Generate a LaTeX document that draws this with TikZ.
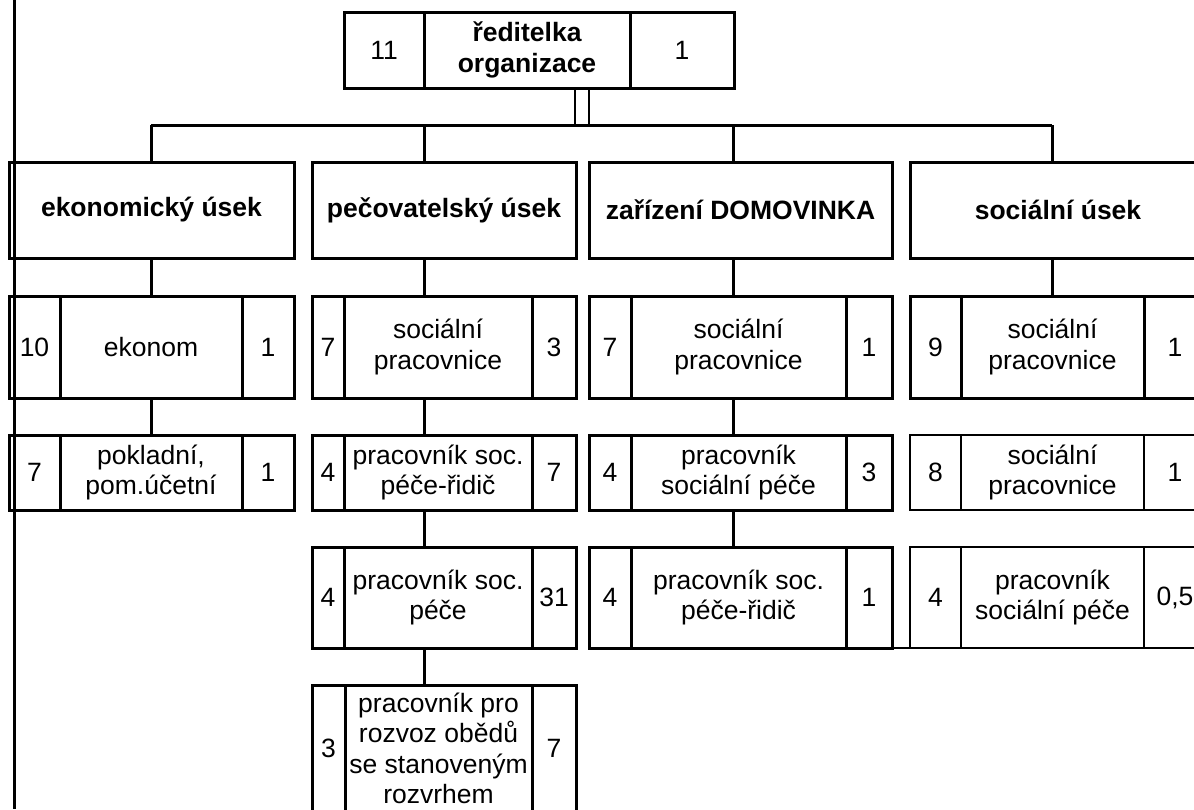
\documentclass[tikz,border=0pt]{standalone}
\usepackage{fontspec}
\setmainfont{Liberation Sans}
\usetikzlibrary{positioning}
\tikzset{cell/.style={
            draw,
            line width=3pt,
            inner sep=0pt,
            outer sep=0pt,
            align=center,
            anchor=north west,
            font=\fontsize{26.5}{30.5}\selectfont
        },
        thincell/.style={
            cell,
            line width=1.8pt
        },
        head/.style={
            cell,
            font=\fontsize{26.5}{30.5}\selectfont\bfseries
        },
        link/.style={
            line width=3pt
        },
        thinlink/.style={
            line width=1.8pt
        }
    }

\begin{document}
\begin{tikzpicture}
        [x=1pt,y=-1pt,
        toph/.style={minimum height=76pt},
        headh/.style={minimum height=96pt},
        rowa/.style={minimum height=102pt},
        rowb/.style={minimum height=75pt},
        rowc/.style={minimum height=101pt},
        rowd/.style={minimum height=127pt}]

        \path[use as bounding box,clip] (0,0) rectangle (1194,809);

        % spine points on the bar
        \coordinate (bar1) at (151,125);
        \coordinate (bar2) at (424,125);
        \coordinate (bar3) at (733,125);
        \coordinate (bar4) at (1052,125);
        \coordinate (dblL) at (575,125);
        \coordinate (dblR) at (589,125);
        \coordinate (edgeT) at (14,0);
        \coordinate (edgeB) at (14,809);

        % director
        \node[cell,toph,minimum width=80pt] (ridL) at (344,12) {11};
        \node[head,toph,minimum width=206pt,right=0pt of ridL] (rid) {ředitelka\\organizace};
        \node[cell,toph,minimum width=104pt,right=0pt of rid] (ridR) {1};

        % departments
        \node[head,headh,minimum width=285pt] (eko) at (9,162) {ekonomický úsek};
        \node[head,headh,minimum width=264pt] (pec) at (312,162) {pečovatelský úsek};
        \node[head,headh,minimum width=303pt] (dom) at (589,162) {zařízení DOMOVINKA};
        \node[head,headh,minimum width=296pt] (soc) at (910,162) {sociální úsek};

        % ekonomický úsek
        \node[cell,rowa,minimum width=51pt] (ekoAl) at (9,296) {10};
        \node[cell,rowa,minimum width=182pt,right=0pt of ekoAl] (ekoA) {ekonom};
        \node[cell,rowa,minimum width=52pt,right=0pt of ekoA] (ekoAr) {1};
        \node[cell,rowb,minimum width=51pt] (ekoBl) at (9,435) {7};
        \node[cell,rowb,minimum width=182pt,right=0pt of ekoBl] (ekoB) {pokladní,\\pom.účetní};
        \node[cell,rowb,minimum width=52pt,right=0pt of ekoB] (ekoBr) {1};

        % pečovatelský úsek
        \node[cell,rowa,minimum width=32pt] (pecAl) at (312,296) {7};
        \node[cell,rowa,minimum width=188pt,right=0pt of pecAl] (pecA) {sociální\\pracovnice};
        \node[cell,rowa,minimum width=44pt,right=0pt of pecA] (pecAr) {3};
        \node[cell,rowb,minimum width=32pt] (pecBl) at (312,435) {4};
        \node[cell,rowb,minimum width=188pt,right=0pt of pecBl] (pecB) {pracovník soc.\\péče-řidič};
        \node[cell,rowb,minimum width=44pt,right=0pt of pecB] (pecBr) {7};
        \node[cell,rowc,minimum width=32pt] (pecCl) at (312,547) {4};
        \node[cell,rowc,minimum width=188pt,right=0pt of pecCl] (pecC) {pracovník soc.\\péče};
        \node[cell,rowc,minimum width=44pt,right=0pt of pecC] (pecCr) {31};
        \node[cell,rowd,minimum width=33pt] (pecDl) at (312,685) {3};
        \node[cell,rowd,minimum width=187pt,right=0pt of pecDl] (pecD) {pracovník pro\\rozvoz obědů\\se stanoveným\\rozvrhem};
        \node[cell,rowd,minimum width=44pt,right=0pt of pecD] (pecDr) {7};

        % zařízení DOMOVINKA
        \node[cell,rowa,minimum width=42pt] (domAl) at (589,296) {7};
        \node[cell,rowa,minimum width=215pt,right=0pt of domAl] (domA) {sociální\\pracovnice};
        \node[cell,rowa,minimum width=46pt,right=0pt of domA] (domAr) {1};
        \node[cell,rowb,minimum width=42pt] (domBl) at (589,435) {4};
        \node[cell,rowb,minimum width=215pt,right=0pt of domBl] (domB) {pracovník\\sociální péče};
        \node[cell,rowb,minimum width=46pt,right=0pt of domB] (domBr) {3};
        \node[cell,rowc,minimum width=42pt] (domCl) at (589,547) {4};
        \node[cell,rowc,minimum width=215pt,right=0pt of domCl] (domC) {pracovník soc.\\péče-řidič};
        \node[cell,rowc,minimum width=46pt,right=0pt of domC] (domCr) {1};

        % sociální úsek
        \node[cell,rowa,minimum width=51pt] (socAl) at (910,296) {9};
        \node[cell,rowa,minimum width=183pt,right=0pt of socAl] (socA) {sociální\\pracovnice};
        \node[cell,rowa,minimum width=62pt,right=0pt of socA] (socAr) {1};
        \node[thincell,rowb,minimum width=51pt] (socBl) at (910,435) {8};
        \node[thincell,rowb,minimum width=183pt,right=0pt of socBl] (socB) {sociální\\pracovnice};
        \node[thincell,rowb,minimum width=62pt,right=0pt of socB] (socBr) {1};
        \node[thincell,rowc,minimum width=51pt] (socCl) at (910,547) {4};
        \node[thincell,rowc,minimum width=183pt,right=0pt of socCl] (socC) {pracovník\\sociální péče};
        \node[thincell,rowc,minimum width=62pt,right=0pt of socC] (socCr) {0,5};

        % lines
        \draw[link] (edgeT) -- (edgeB);
        \draw[thinlink] (rid.south -| dblL) -- (dblL);
        \draw[thinlink] (rid.south -| dblR) -- (dblR);
        \draw[link] (bar1) -- (bar4);
        \draw[link] (bar1) -- (eko.north -| bar1);
        \draw[link] (bar2) -- (pec.north -| bar2);
        \draw[link] (bar3) -- (dom.north -| bar3);
        \draw[link] (bar4) -- (soc.north -| bar4);

        \draw[link] (eko.south -| bar1) -- (ekoA.north -| bar1);
        \draw[link] (ekoA.south -| bar1) -- (ekoB.north -| bar1);
        \draw[link] (pec.south -| bar2) -- (pecA.north -| bar2);
        \draw[link] (pecA.south -| bar2) -- (pecB.north -| bar2);
        \draw[link] (pecB.south -| bar2) -- (pecC.north -| bar2);
        \draw[link] (pecC.south -| bar2) -- (pecD.north -| bar2);
        \draw[link] (dom.south -| bar3) -- (domA.north -| bar3);
        \draw[link] (domA.south -| bar3) -- (domB.north -| bar3);
        \draw[link] (domB.south -| bar3) -- (domC.north -| bar3);
        \draw[link] (soc.south -| bar4) -- (socA.north -| bar4);
        \draw[thinlink] (domCr.south east) -- (socCl.south west);

    \end{tikzpicture}
\end{document}
